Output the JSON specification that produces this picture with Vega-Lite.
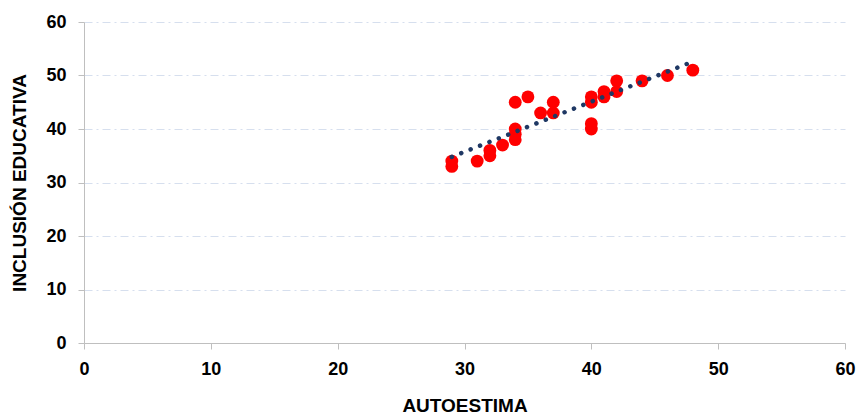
{
  "$schema": "https://vega.github.io/schema/vega-lite/v6.json",
  "width": 761,
  "height": 321,
  "autosize": {"type": "none"},
  "padding": {"left": 84, "top": 22, "right": 14, "bottom": 74},
  "background": "white",
  "config": {
    "view": {"stroke": null},
    "font": "Liberation Sans"
  },
  "datasets": {
    "points": [
      {"autoestima": 29, "inclusion": 34},
      {"autoestima": 29, "inclusion": 33},
      {"autoestima": 31, "inclusion": 34},
      {"autoestima": 32, "inclusion": 36},
      {"autoestima": 32, "inclusion": 35},
      {"autoestima": 33, "inclusion": 37},
      {"autoestima": 34, "inclusion": 40},
      {"autoestima": 34, "inclusion": 39},
      {"autoestima": 34, "inclusion": 38},
      {"autoestima": 34, "inclusion": 45},
      {"autoestima": 35, "inclusion": 46},
      {"autoestima": 36, "inclusion": 43},
      {"autoestima": 37, "inclusion": 45},
      {"autoestima": 37, "inclusion": 43},
      {"autoestima": 40, "inclusion": 46},
      {"autoestima": 40, "inclusion": 45},
      {"autoestima": 40, "inclusion": 41},
      {"autoestima": 40, "inclusion": 40},
      {"autoestima": 41, "inclusion": 47},
      {"autoestima": 41, "inclusion": 46},
      {"autoestima": 42, "inclusion": 49},
      {"autoestima": 42, "inclusion": 47},
      {"autoestima": 44, "inclusion": 49},
      {"autoestima": 46, "inclusion": 50},
      {"autoestima": 48, "inclusion": 51}
    ],
    "trend": [
      {"autoestima": 29, "inclusion": 34.8},
      {"autoestima": 48, "inclusion": 52.6}
    ]
  },
  "encoding": {
    "x": {
      "field": "autoestima",
      "type": "quantitative",
      "scale": {"domain": [0, 60], "nice": false, "zero": true},
      "axis": {
        "title": "AUTOESTIMA",
        "values": [0, 10, 20, 30, 40, 50, 60],
        "grid": false,
        "domainColor": "#bfbfbf",
        "domainWidth": 1,
        "tickColor": "#bfbfbf",
        "tickSize": 6,
        "labelFontSize": 18,
        "labelFontWeight": "bold",
        "labelColor": "#000000",
        "labelPadding": 11,
        "labelFlush": false,
        "titleFontSize": 19,
        "titleFontWeight": "bold",
        "titleColor": "#000000",
        "titlePadding": 18
      }
    },
    "y": {
      "field": "inclusion",
      "type": "quantitative",
      "scale": {"domain": [0, 60], "nice": false, "zero": true},
      "axis": {
        "title": "INCLUSIÓN EDUCATIVA",
        "values": [0, 10, 20, 30, 40, 50, 60],
        "grid": true,
        "gridColor": "#d6dfee",
        "gridDash": [8, 4, 2, 4],
        "gridWidth": 1,
        "domainColor": "#bfbfbf",
        "tickColor": "#bfbfbf",
        "tickSize": 6,
        "labelFontSize": 18,
        "labelFontWeight": "bold",
        "labelColor": "#000000",
        "labelPadding": 12,
        "labelFlush": false,
        "titleFontSize": 19,
        "titleFontWeight": "bold",
        "titleColor": "#000000",
        "titlePadding": 16
      }
    }
  },
  "layer": [
    {
      "data": {"name": "points"},
      "mark": {"type": "point", "shape": "circle", "filled": true, "size": 165, "color": "#ff0000", "opacity": 1}
    },
    {
      "data": {"name": "trend"},
      "mark": {"type": "line", "color": "#1f3864", "strokeWidth": 4.5, "strokeDash": [0.1, 10], "strokeCap": "round"}
    }
  ]
}
